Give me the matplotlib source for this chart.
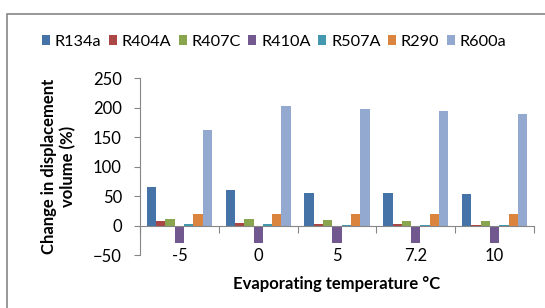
# change in displacement volume vs evaporating temperature, grouped bars

import matplotlib.pyplot as plt
import numpy as np
from matplotlib.patches import Rectangle

plt.rcParams['font.family'] = ['Lato', 'DejaVu Sans']

temps = ['-5', '0', '5', '7.2', '10']
refrigerants = ['R134a', 'R404A', 'R407C', 'R410A', 'R507A', 'R290', 'R600a']

r134a = [65, 60, 56, 55, 53]
r404a = [7, 5, 3, 2, 1]
r407c = [12, 11, 10, 8, 8]
r410a = [-30, -30, -30, -30, -30]
r507a = [3, 2, 1, 0.5, 0.5]
r290 = [19, 19, 19, 20, 19]
r600a = [163, 204, 198, 195, 190]

series = [r134a, r404a, r407c, r410a, r507a, r290, r600a]
colors = ['#4572A7', '#AA4643', '#89A54E', '#71588F', '#4198AF', '#DB843D', '#93A9CF']

fig = plt.figure(figsize=(5.45, 3.08), dpi=100)
ax = fig.add_axes([140/545, 53/308, 394/545, 176.5/308])

x = np.arange(len(temps))
w = 0.118
for i, (vals, c, name) in enumerate(zip(series, colors, refrigerants)):
    ax.bar(x + (i - 3) * w, vals, w, color=c, label=name, zorder=2)

ax.set_xlim(-0.5, len(temps) - 0.5)
ax.set_ylim(-50, 250)
ax.set_yticks(np.arange(-50, 251, 50))

# axis line at zero, ticks on category boundaries, labels at bottom
for s in ['top', 'right']:
    ax.spines[s].set_visible(False)
ax.spines['bottom'].set_position(('data', 0))
ax.spines['bottom'].set_color('#868686')
ax.spines['left'].set_color('#868686')
ax.set_xticks(np.arange(-0.5, len(temps), 1.0))
ax.set_xticklabels([])
ax.set_xticks(x, minor=True)
ax.set_xticklabels(temps, minor=True)
ax.tick_params(axis='x', which='major', length=5, color='#868686', direction='out')
ax.tick_params(axis='x', which='minor', length=0, pad=16, labelsize=12)
ax.tick_params(axis='y', length=4, color='#868686', labelsize=12, pad=9)

ax.set_xlabel('Evaporating temperature °C', fontweight='bold', fontsize=12, labelpad=9)
ax.set_ylabel('Change in displacement\nvolume (%)', fontweight='bold', fontsize=12, labelpad=12)

fig.legend(loc='center', bbox_to_anchor=(0.503, 0.864), ncol=7, frameon=False,
           fontsize=11.7, handlelength=0.5, handleheight=0.5, handletextpad=0.3,
           columnspacing=0.45)

fig.patches.append(Rectangle((7/545, -0.1), 1.0, 1.1 - 14/308, transform=fig.transFigure,
                             fill=False, edgecolor='#868686', lw=1.2))

plt.savefig('out.png', dpi=100)
